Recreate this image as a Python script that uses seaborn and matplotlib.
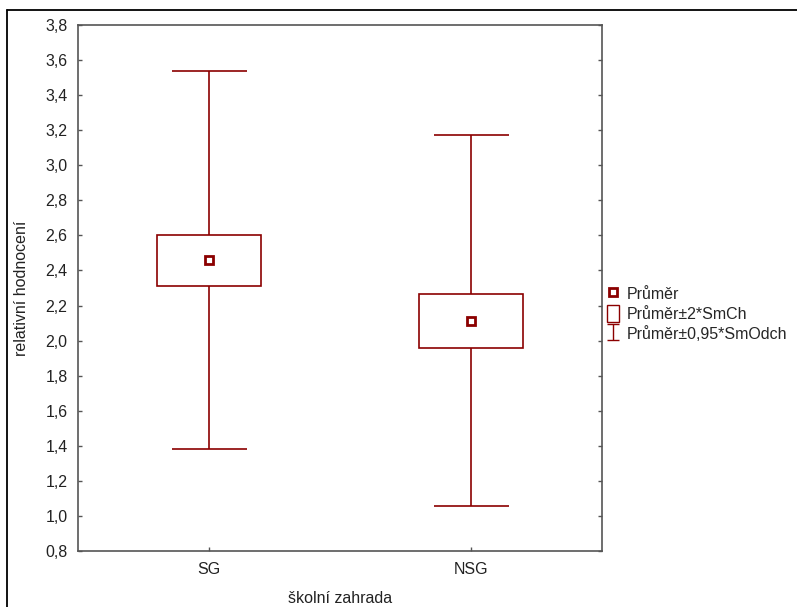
import numpy as np
import pandas as pd
import seaborn as sns
import matplotlib
matplotlib.use("Agg")
import matplotlib.pyplot as plt
from matplotlib.lines import Line2D
from matplotlib.patches import Rectangle
from matplotlib.ticker import FuncFormatter

# data
groups = ['SG', 'NSG']
means = [2.46, 2.11]
box_lo = [2.31, 1.955]     # prumer - 2*SmCh
box_hi = [2.60, 2.265]     # prumer + 2*SmCh
whisk_lo = [1.38, 1.055]   # prumer - 0.95*SmOdch
whisk_hi = [3.54, 3.17]    # prumer + 0.95*SmOdch
yticks = np.arange(0.8, 3.81, 0.2)

red = '#8b0000'
fs = 11.5

sns.set_style('white')
plt.rcParams['font.family'] = ['Liberation Sans', 'DejaVu Sans']
plt.rcParams['font.size'] = fs

fig = plt.figure(figsize=(7.97, 6.07), dpi=100)
ax = fig.add_axes([78/797, 1-551/607, 524/797, 526/607])

df = pd.DataFrame({'skupina': groups, 'prumer': means})
pos = np.arange(len(groups))

# whiskers (mean +- 0.95*SD)
ax.errorbar(pos, means,
            yerr=[np.array(means)-np.array(whisk_lo), np.array(whisk_hi)-np.array(means)],
            fmt='none', ecolor=red, elinewidth=1.2, capsize=27, capthick=1.2, zorder=2)
# small proxy only for the legend symbol
eb_leg = ax.errorbar([np.nan], [np.nan], yerr=[[1], [1]], fmt='none', ecolor=red,
                     elinewidth=1, capsize=4, capthick=1)

# boxes (mean +- 2*SE)
ax.bar(pos, np.array(box_hi)-np.array(box_lo), bottom=box_lo, width=0.4,
       facecolor='white', edgecolor=red, linewidth=1.2, zorder=3)

# mean markers
sns.pointplot(data=df, x='skupina', y='prumer', ax=ax, order=groups,
              linestyle='none', marker='s', markersize=6, color=red,
              markerfacecolor='white', markeredgecolor=red, markeredgewidth=2,
              errorbar=None, zorder=4)

ax.set_xlim(-0.5, 1.5)
ax.set_ylim(0.8, 3.8)
ax.set_yticks(yticks)
ax.yaxis.set_major_formatter(FuncFormatter(lambda v, p: f'{v:.1f}'.replace('.', ',')))
ax.set_xticks(pos)
ax.set_xticklabels(groups)
ax.tick_params(axis='both', direction='in', length=3, width=1, color='#555555',
               labelsize=fs, labelcolor='#222222')
ax.tick_params(axis='y', right=True, left=True, pad=7.5)
ax.tick_params(axis='x', bottom=True, pad=8)
for s in ax.spines.values():
    s.set_color('#555555')
    s.set_linewidth(1.2)

ax.set_xlabel('školní zahrada', fontsize=fs, labelpad=10, color='#222222')
ax.set_ylabel('relativní hodnocení', fontsize=fs, labelpad=12, color='#222222')

# legend
h_mean = Line2D([], [], linestyle='none', marker='s', markersize=5.5, markerfacecolor='white',
                markeredgecolor=red, markeredgewidth=2)
h_box = Rectangle((0, 0), 1, 1, facecolor='white', edgecolor=red, linewidth=1)
fig.legend([h_mean, h_box, eb_leg], ['Průměr', 'Průměr±2*SmCh', 'Průměr±0,95*SmOdch'],
           loc='upper left', bbox_to_anchor=(601/797, 1-279/607), frameon=False,
           handlelength=0.75, handleheight=1.2, handletextpad=0.45, labelspacing=0.22,
           fontsize=fs, borderaxespad=0)

# outer frame (left and top edge)
fig.add_artist(Line2D([7/797, 7/797], [0, 1-10/607], transform=fig.transFigure,
                      color='black', linewidth=1.3))
fig.add_artist(Line2D([7/797, 1], [1-10/607, 1-10/607], transform=fig.transFigure,
                      color='black', linewidth=1.3))

fig.savefig('out.png', dpi=100)
